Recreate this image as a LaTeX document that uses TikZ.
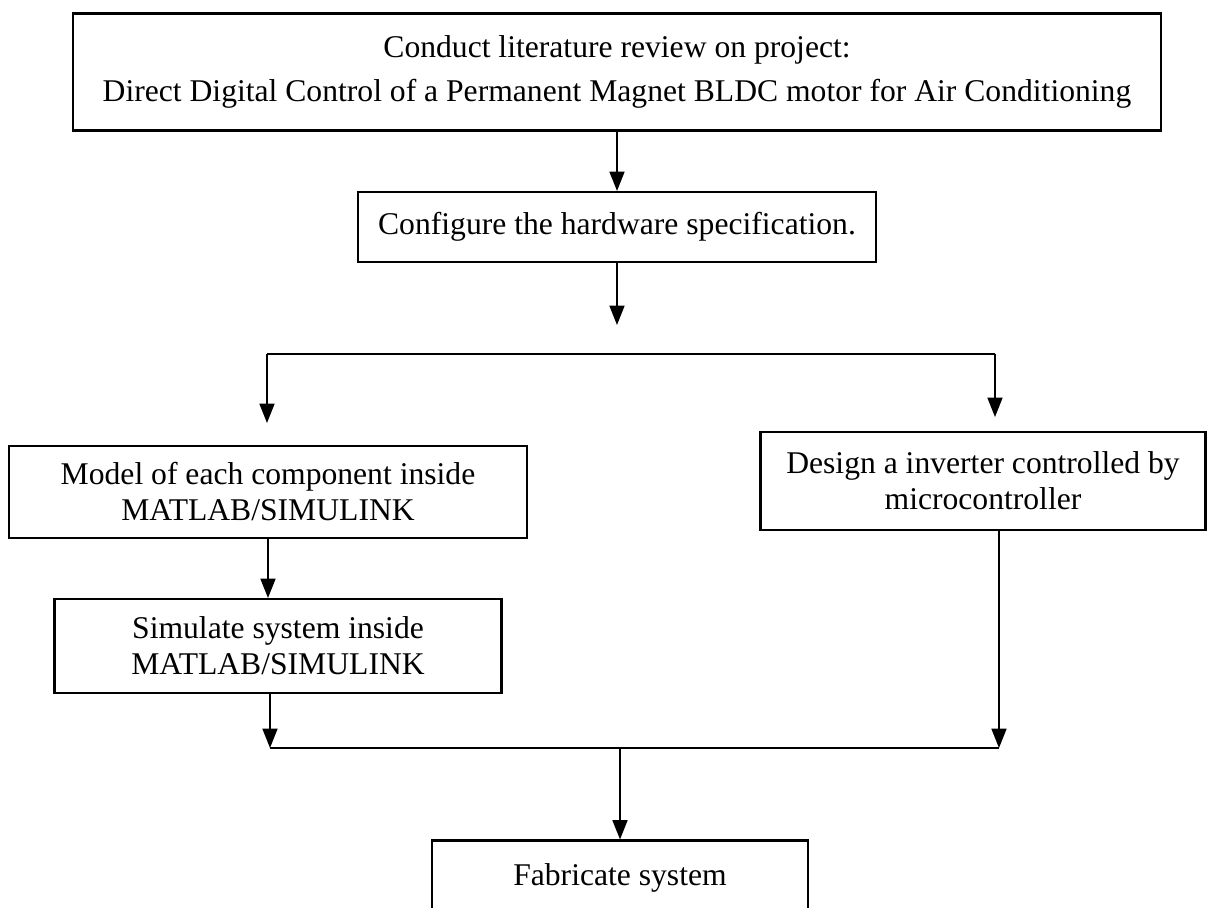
\documentclass[tikz,border=0pt]{standalone}
\usepackage{fontspec}
\setmainfont{Liberation Serif}
\usetikzlibrary{arrows.meta, positioning}

\tikzset{
  stagebox/.style={draw, line width=1.2pt, align=center, inner sep=0pt,
    font=\fontsize{18}{20.5}\selectfont},
  flow/.style={-{Triangle[length=11pt,width=8.5pt]}, line width=1pt},
  link/.style={line width=1pt},
}

\begin{document}
\begin{tikzpicture}[x=0.02cm, y=-0.02cm]
  \useasboundingbox (0,0) rectangle (1215,908);

  % boxes
  \node[stagebox, minimum width=21.76cm, minimum height=2.34cm] (review) at (617,72)
    {Conduct literature review on project:\\[5pt]
     Direct Digital Control of a Permanent Magnet BLDC motor for Air Conditioning};
  \node[stagebox, minimum width=10.36cm, minimum height=1.4cm] (config) at (617,227)
    {Configure the hardware specification.};
  \node[stagebox, minimum width=10.36cm, minimum height=1.84cm] (model) at (268,492)
    {Model of each component inside\\MATLAB/SIMULINK};
  \node[stagebox, minimum width=8.9cm, minimum height=1.96cm] (design) at (983,481)
    {Design a inverter controlled by\\microcontroller};
  \node[stagebox, minimum width=8.94cm, minimum height=1.88cm] (sim) at (278,646)
    {Simulate system inside\\MATLAB/SIMULINK};
  \node[stagebox, minimum width=7.52cm, minimum height=1.5cm] (fab) at (620,878)
    {Fabricate system};

  % free ends of the connectors
  \coordinate (fork) at (617,325);
  \coordinate (forkL) at (267,354);
  \coordinate (forkR) at (995,354);
  \coordinate (tipL) at (267,423);
  \coordinate (tipR) at (995,417);
  \coordinate (joinL) at (270,748);
  \coordinate (joinR) at (999,748);
  \coordinate (joinM) at (620,748);

  % connectors
  \draw[flow] (review) -- (config);
  \draw[flow] (config) -- (fork);
  \draw[link] (forkL) -- (forkR);
  \draw[flow] (forkL) -- (tipL);
  \draw[flow] (forkR) -- (tipR);
  \draw[flow] (model) -- (model |- sim.north);
  \draw[flow] (sim.south -| joinL) -- (joinL);
  \draw[flow] (design.south -| joinR) -- (joinR);
  \draw[link] (joinL) -- (joinR);
  \draw[flow] (joinM) -- (fab);
\end{tikzpicture}
\end{document}
